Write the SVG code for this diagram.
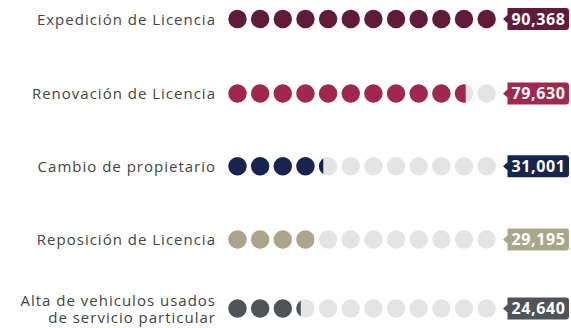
<svg xmlns="http://www.w3.org/2000/svg" width="571" height="328" viewBox="0 0 571 328">
<defs>
<style>
.lbl{font-family:"Open Sans","Noto Sans",sans-serif;font-size:15px;fill:#444;text-anchor:end;letter-spacing:1px}
.val{font-family:"Open Sans","Noto Sans",sans-serif;font-size:16px;font-weight:700;fill:#fff;text-anchor:middle;letter-spacing:0.6px}
.e{fill:#e4e4e4}
</style>
<g id="dots">
<circle cx="237.5" cy="0" r="9.2"/><circle cx="260.15" cy="0" r="9.2"/><circle cx="282.8" cy="0" r="9.2"/><circle cx="305.45" cy="0" r="9.2"/><circle cx="328.1" cy="0" r="9.2"/><circle cx="350.75" cy="0" r="9.2"/><circle cx="373.4" cy="0" r="9.2"/><circle cx="396.05" cy="0" r="9.2"/><circle cx="418.7" cy="0" r="9.2"/><circle cx="441.35" cy="0" r="9.2"/><circle cx="464" cy="0" r="9.2"/><circle cx="486.65" cy="0" r="9.2"/>
</g>
<clipPath id="c1"><rect x="0" y="-20" width="496" height="40"/></clipPath>
<clipPath id="c2"><rect x="0" y="-20" width="465.7" height="40"/></clipPath>
<clipPath id="c3"><rect x="0" y="-20" width="323.3" height="40"/></clipPath>
<clipPath id="c4"><rect x="0" y="-20" width="314" height="40"/></clipPath>
<clipPath id="c5"><rect x="0" y="-20" width="300.8" height="40"/></clipPath>
<path id="badge" d="M507.5,-11 H566 a3,3 0 0 1 3,3 V8 a3,3 0 0 1 -3,3 H507.5 V4 L503,0 L507.5,-4 Z"/>
</defs>
<g id="row1" transform="translate(0,19)">
<text class="lbl" x="216" y="5.5">Expedición de Licencia</text>
<use href="#dots" class="e"/>
<use href="#dots" fill="#621a3b" clip-path="url(#c1)"/>
<use href="#badge" fill="#621a3b"/>
<text class="val" x="538.5" y="5.8">90,368</text>
</g>
<g id="row2" transform="translate(0,93.5)">
<text class="lbl" x="216" y="5.5">Renovación de Licencia</text>
<use href="#dots" class="e"/>
<use href="#dots" fill="#a0284e" clip-path="url(#c2)"/>
<use href="#badge" fill="#a0284e"/>
<text class="val" x="538.5" y="5.8">79,630</text>
</g>
<g id="row3" transform="translate(0,166.3)">
<text class="lbl" x="216" y="5.5">Cambio de propietario</text>
<use href="#dots" class="e"/>
<use href="#dots" fill="#17244f" clip-path="url(#c3)"/>
<use href="#badge" fill="#17244f"/>
<text class="val" x="538.5" y="5.8">31,001</text>
</g>
<g id="row4" transform="translate(0,239.5)">
<text class="lbl" x="216" y="5.5">Reposición de Licencia</text>
<use href="#dots" class="e"/>
<use href="#dots" fill="#a9a68b" clip-path="url(#c4)"/>
<use href="#badge" fill="#a9a68b"/>
<text class="val" x="538.5" y="5.8">29,195</text>
</g>
<g id="row5" transform="translate(0,308.5)">
<text class="lbl" x="216" y="-2.5">Alta de vehiculos usados</text>
<text class="lbl" x="216" y="14">de servicio particular</text>
<use href="#dots" class="e"/>
<use href="#dots" fill="#505357" clip-path="url(#c5)"/>
<use href="#badge" fill="#505357"/>
<text class="val" x="538.5" y="5.8">24,640</text>
</g>
</svg>
